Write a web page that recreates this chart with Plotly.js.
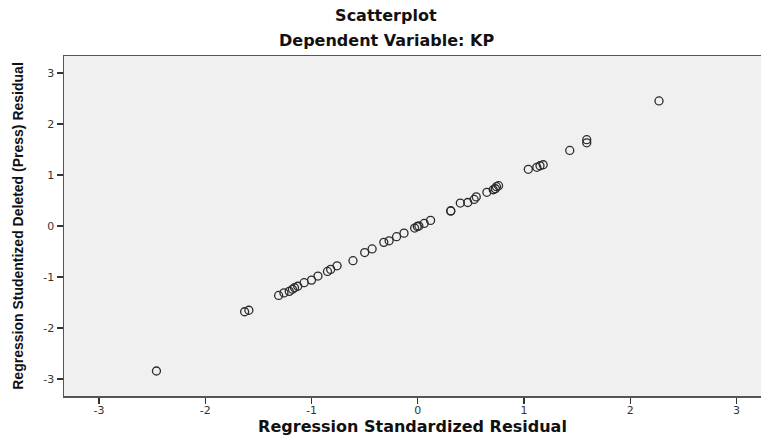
<!DOCTYPE html>
<html>
<head>
<meta charset="utf-8">
<script src="https://cdn.plot.ly/plotly-3.0.1.min.js"></script>
<style>
html,body{margin:0;padding:0;background:#fff;}
#chart{width:761px;height:439px;}
</style>
</head>
<body>
<div id="chart"></div>
<script>
// Regression Standardized Residual (x) vs Studentized Deleted (Press) Residual (y)
const stdResidual = [
  -2.46, -1.63, -1.59, -1.31, -1.26, -1.21, -1.18, -1.16, -1.13, -1.07,
  -1.00, -0.94, -0.85, -0.82, -0.76, -0.61, -0.50, -0.43, -0.32, -0.27,
  -0.20, -0.13, -0.03, -0.005, 0.01, 0.06, 0.12, 0.31, 0.31, 0.40,
  0.47, 0.53, 0.55, 0.65, 0.71, 0.73, 0.74, 0.76, 1.04, 1.12,
  1.15, 1.18, 1.43, 1.59, 1.59, 2.27
];
const deletedResidual = [
  -2.84, -1.68, -1.65, -1.36, -1.31, -1.28, -1.24, -1.21, -1.18, -1.11,
  -1.06, -0.98, -0.89, -0.85, -0.78, -0.68, -0.52, -0.45, -0.32, -0.29,
  -0.21, -0.14, -0.04, -0.01, 0.00, 0.05, 0.11, 0.30, 0.29, 0.45,
  0.46, 0.52, 0.57, 0.66, 0.71, 0.73, 0.77, 0.79, 1.11, 1.15,
  1.18, 1.20, 1.48, 1.69, 1.63, 2.45
];
const tickVals = [-3, -2, -1, 0, 1, 2, 3];
const tickText = ["-3", "-2", "-1", "0", "1", "2", "3"];
const chartTitle = "Scatterplot";
const subTitle = "Dependent Variable: KP";
const xTitle = "Regression Standardized Residual";
const yTitle = "Regression Studentized Deleted (Press) Residual";

const trace = {
  x: stdResidual,
  y: deletedResidual,
  type: "scatter",
  mode: "markers",
  marker: {symbol: "circle-open", size: 8, color: "#2b2b2b", line: {width: 1.3, color: "#2b2b2b"}},
  hoverinfo: "x+y"
};

const tickFont = {family: "DejaVu Sans, Arial, sans-serif", size: 11, color: "#333"};
const titleFam = "DejaVu Sans, Arial, sans-serif";

const layout = {
  width: 761, height: 439,
  margin: {l: 64, r: 0, t: 56, b: 43, pad: 0},
  paper_bgcolor: "#ffffff",
  plot_bgcolor: "#f0f0f0",
  showlegend: false,
  title: {
    text: "<b>" + chartTitle + "</b>",
    font: {family: titleFam, size: 16, color: "#111"},
    x: 0.507, xref: "container", xanchor: "center",
    y: 0.965, yref: "container", yanchor: "middle"
  },
  annotations: [{
    text: "<b>" + subTitle + "</b>",
    font: {family: titleFam, size: 16, color: "#111"},
    xref: "paper", yref: "paper", x: 0.462, y: 1.0, yshift: 16,
    xanchor: "center", yanchor: "middle", showarrow: false
  }],
  xaxis: {
    range: [-3.33, 3.23],
    tickmode: "array", tickvals: tickVals, ticktext: tickText,
    ticks: "outside", ticklen: 6, tickwidth: 1.3, tickcolor: "#333",
    ticklabelstandoff: -3,
    tickfont: tickFont,
    showgrid: false, zeroline: false,
    showline: true, linecolor: "#555", linewidth: 1.5, mirror: true,
    title: {text: "<b>" + xTitle + "</b>", font: {family: titleFam, size: 16, color: "#111"}, standoff: 4}
  },
  yaxis: {
    range: [-3.33, 3.33],
    tickmode: "array", tickvals: tickVals, ticktext: tickText,
    ticks: "outside", ticklen: 6, tickwidth: 1.3, tickcolor: "#333",
    tickfont: tickFont,
    showgrid: false, zeroline: false,
    showline: true, linecolor: "#555", linewidth: 1.5, mirror: false,
    title: {text: "<b>" + yTitle + "</b>", font: {family: "Liberation Sans, Arial, sans-serif", size: 14, color: "#111"}, standoff: 16}
  }
};

Plotly.newPlot("chart", [trace], layout, {displayModeBar: false, staticPlot: true});
</script>
</body>
</html>
